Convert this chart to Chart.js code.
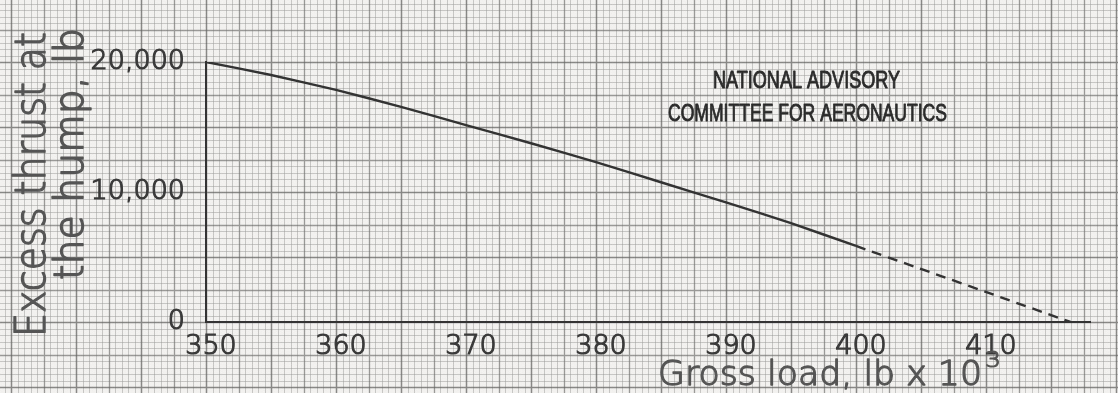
<!DOCTYPE html>
<html>
<head>
<meta charset="utf-8">
<title>Excess thrust at the hump vs. gross load</title>
<script src="https://cdn.jsdelivr.net/npm/chart.js@4.4.1/dist/chart.umd.min.js"></script>
<style>
  html, body { margin: 0; padding: 0; background: #f2f1ef; }
  #wrap { width: 1118px; height: 393px; }
</style>
</head>
<body>
<div id="wrap"><canvas id="chart" width="1118" height="393"></canvas></div>
<script>
// Gross load, lb x 10^3
const grossLoad = [350, 355, 360, 365, 370, 375, 380, 385, 390, 395, 400, 416.5];
// Excess thrust at the hump, lb
const excessThrust = [20000, 19000, 17850, 16550, 15150, 13750, 12300, 10750, 9200, 7600, 5850, 0];
// Beyond this load the curve is extrapolated (dashed)
const extrapolatedFrom = 400;

const xTickValues = [350, 360, 370, 380, 390, 400, 410];
const yTickValues = [0, 10000, 20000];

const yTitleLines = ['Excess thrust at', 'the hump, lb'];
const xTitleText = 'Gross load, lb x 10';
const xTitleExponent = '3';
const stampLines = ['NATIONAL ADVISORY', 'COMMITTEE FOR AERONAUTICS'];

const HAND = '"DejaVu Sans", "Open Sans", sans-serif';
const STAMP = '"Liberation Sans", Arial, sans-serif';

// Cross-section paper: minor rule every half unit, heavier every 5 and 10 minor rules
const graphPaper = {
  id: 'graphPaper',
  beforeDraw(chart) {
    const { ctx, width, height } = chart;
    const xs = chart.scales.x, ys = chart.scales.y;
    ctx.save();
    ctx.fillStyle = '#f2f1ef';
    ctx.fillRect(0, 0, width, height);

    const x0 = xs.getPixelForValue(350);
    const dx = xs.getPixelForValue(350.5) - x0;
    const y0 = ys.getPixelForValue(0);
    const dy = y0 - ys.getPixelForValue(500);

    const kindOf = (i) => {
      const m = ((i % 10) + 10) % 10;
      return m === 0 ? 0 : (m === 5 ? 5 : 1);
    };
    const styles = {
      1: ['rgba(150,150,150,0.48)', 1],
      5: ['rgba(110,110,110,0.68)', 1.3],
      0: ['rgba(100,100,100,0.75)', 1.5]
    };

    for (const pass of [1, 5, 0]) {
      const [c, w] = styles[pass];
      ctx.strokeStyle = c; ctx.lineWidth = w;
      ctx.beginPath();
      for (let i = Math.floor(-x0 / dx) - 1; i <= Math.ceil((width - x0) / dx) + 1; i++) {
        if (kindOf(i) !== pass) continue;
        const px = Math.round(x0 + i * dx) + 0.5;
        ctx.moveTo(px, 0); ctx.lineTo(px, height);
      }
      for (let j = Math.floor((y0 - height) / dy) - 1; j <= Math.ceil(y0 / dy) + 1; j++) {
        if (kindOf(j) !== pass) continue;
        const py = Math.round(y0 - j * dy) + 0.5;
        ctx.moveTo(0, py); ctx.lineTo(width, py);
      }
      ctx.stroke();
    }
    ctx.restore();
  }
};

// Draws a string squeezed or stretched to a given width (hand lettering is narrow),
// with a thin outline to give the pen-stroke weight
function fittedText(ctx, text, x, y, font, targetWidth, rotation, strokeW) {
  ctx.save();
  ctx.translate(x, y);
  ctx.rotate(rotation || 0);
  ctx.font = font;
  const w = ctx.measureText(text).width;
  ctx.scale(targetWidth / w, 1);
  ctx.textAlign = 'left';
  ctx.textBaseline = 'alphabetic';
  ctx.fillText(text, 0, 0);
  if (strokeW) {
    ctx.lineWidth = strokeW;
    ctx.lineJoin = 'round';
    ctx.strokeText(text, 0, 0);
  }
  ctx.restore();
}

const lettering = {
  id: 'lettering',
  afterDraw(chart) {
    const { ctx } = chart;
    ctx.save();
    // axis titles
    ctx.fillStyle = '#555555';
    ctx.strokeStyle = '#555555';
    fittedText(ctx, yTitleLines[0], 45, 337, '200 42px ' + HAND, 305, -Math.PI / 2, 1.4);
    fittedText(ctx, yTitleLines[1], 83, 280, '200 40px ' + HAND, 252, -Math.PI / 2, 1.4);
    fittedText(ctx, xTitleText, 658, 385, '200 34px ' + HAND, 324, 0, 1.3);
    fittedText(ctx, xTitleExponent, 985, 367, '200 22px ' + HAND, 16, 0, 1.1);
    // stamp
    ctx.fillStyle = '#2b2b2b';
    ctx.strokeStyle = '#2b2b2b';
    fittedText(ctx, stampLines[0], 713, 88, '24px ' + STAMP, 187, 0, 0.9);
    fittedText(ctx, stampLines[1], 668, 121, '24px ' + STAMP, 279, 0, 0.9);
    ctx.restore();
  }
};

const points = grossLoad.map((g, i) => ({ x: g, y: excessThrust[i] }));

new Chart(document.getElementById('chart'), {
  type: 'line',
  data: {
    datasets: [{
      data: points,
      borderColor: '#333333',
      borderWidth: 2.4,
      pointRadius: 0,
      tension: 0.2,
      fill: false,
      segment: {
        borderDash: (c) => (c.p0.parsed.x >= extrapolatedFrom ? [10, 7] : undefined)
      }
    }]
  },
  options: {
    responsive: false,
    animation: false,
    devicePixelRatio: 1,
    layout: { padding: { top: 62, right: 28, bottom: 0, left: 0 } },
    plugins: {
      legend: { display: false },
      tooltip: { enabled: false },
      title: { display: false }
    },
    scales: {
      x: {
        type: 'linear',
        min: 350,
        max: 418,
        afterFit(s) { s.height = 71; },
        afterBuildTicks(s) { s.ticks = xTickValues.map(v => ({ value: v })); },
        grid: { display: false, drawTicks: false },
        border: { display: true, color: '#333333', width: 2 },
        ticks: {
          padding: 9,
          labelOffset: 5,
          autoSkip: false,
          maxRotation: 0,
          color: '#3a3a3a',
          textStrokeColor: '#3a3a3a',
          textStrokeWidth: 1.2,
          font: { family: HAND, size: 27, weight: '200' },
          callback: (v) => String(v)
        }
      },
      y: {
        type: 'linear',
        min: 0,
        max: 20000,
        afterFit(s) { s.width = 206; },
        afterBuildTicks(s) { s.ticks = yTickValues.map(v => ({ value: v })); },
        grid: { display: false, drawTicks: false },
        border: { display: true, color: '#333333', width: 2 },
        ticks: {
          padding: 21,
          color: '#3a3a3a',
          textStrokeColor: '#3a3a3a',
          textStrokeWidth: 1.2,
          font: { family: HAND, size: 27, weight: '200' },
          callback: (v) => Number(v).toLocaleString('en-US')
        }
      }
    }
  },
  plugins: [graphPaper, lettering]
});
</script>
</body>
</html>
